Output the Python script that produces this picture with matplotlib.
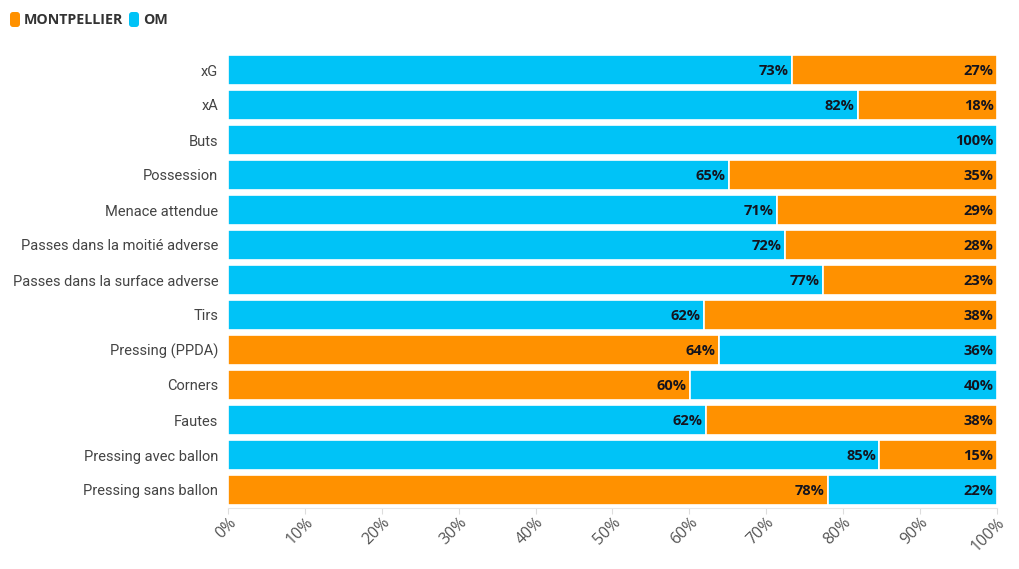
import numpy as np
import matplotlib.pyplot as plt
from matplotlib.patches import FancyBboxPatch
from matplotlib.ticker import PercentFormatter

categories = [
    "xG", "xA", "Buts", "Possession", "Menace attendue",
    "Passes dans la moitié adverse", "Passes dans la surface adverse",
    "Tirs", "Pressing (PPDA)", "Corners", "Fautes",
    "Pressing avec ballon", "Pressing sans ballon",
]
om = [73.4, 81.9, 100.0, 65.1, 71.4, 72.4, 77.4, 61.9, 36.2, 39.9, 62.2, 84.7, 22.0]
montpellier = [100 - v for v in om]
teams = ["MONTPELLIER", "OM"]
colors = {"MONTPELLIER": "#FF9100", "OM": "#00C3F7"}

fig = plt.figure(figsize=(10.2, 5.69), dpi=100)
ax = fig.add_axes([228 / 1020, 1 - 507.5 / 569, 769 / 1020, 455 / 569])

y = np.arange(len(categories))
for i, cat in enumerate(categories):
    vals = {"OM": om[i], "MONTPELLIER": montpellier[i]}
    # larger share drawn first, from the left
    order = sorted(vals, key=lambda t: -vals[t])
    left = 0
    for team in order:
        v = vals[team]
        if v <= 0:
            continue
        ax.barh(i, v, left=left, height=0.83, color=colors[team],
                edgecolor="white", linewidth=1.2)
        ax.text(left + v - 0.45, i + 0.02, f"{round(v):.0f}%", ha="right", va="center",
                fontsize=10.5, fontweight="bold", color="#14141e", family="Open Sans")
        left += v

ax.set_xlim(0, 100)
ax.set_ylim(len(categories) - 0.5, -0.5)
ax.set_yticks(y)
ax.set_yticklabels(categories, family="Roboto", fontsize=10.5, color="#444444")
ax.tick_params(axis="y", length=0, pad=7)
ax.set_xticks(np.arange(0, 101, 10))
ax.xaxis.set_major_formatter(PercentFormatter(decimals=0))
ax.tick_params(axis="x", length=4, color="#dddddd", labelcolor="#555555", labelsize=11.5, pad=1)
for lbl in ax.get_xticklabels():
    lbl.set_rotation(45)
    lbl.set_ha("right")
    lbl.set_rotation_mode("anchor")
    lbl.set_family("Open Sans")
for s in ["top", "right", "left"]:
    ax.spines[s].set_visible(False)
ax.spines["bottom"].set_color("#e6e6e6")

# legend at top left
legend_x = [0.10, 1.29]
text_x = [0.24, 1.43]
for team, bx, tx in zip(teams, legend_x, text_x):
    fig.patches.append(FancyBboxPatch((bx, 5.42), 0.10, 0.15,
                                      boxstyle="round,pad=0,rounding_size=0.03",
                                      transform=fig.dpi_scale_trans,
                                      facecolor=colors[team], edgecolor="none"))
    fig.text(tx / 10.2, 5.49 / 5.69, team, ha="left", va="center", fontsize=10.3,
             fontweight="bold", color="#333333", family="Open Sans")

fig.savefig("out.png", dpi=100)
